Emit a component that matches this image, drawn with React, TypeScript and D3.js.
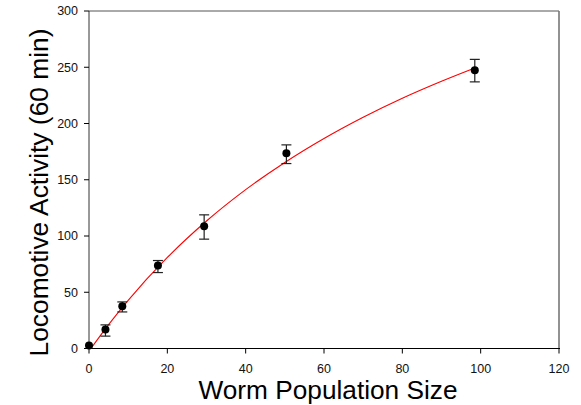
import React from "react";
import * as d3 from "d3";

const popSize = [0, 4.2, 8.5, 17.6, 29.4, 50.4, 98.5];
const activity = [2.7, 16.9, 37.6, 73.8, 108.7, 173.6, 247.4];
const errLow = [2.7, 11.0, 32.5, 67.5, 97.2, 164.4, 237.0];
const errHigh = [2.7, 21.0, 41.4, 78.2, 118.8, 181.0, 257.0];

const fitX = [0.5, 5, 10, 20, 30, 40, 50, 60, 70, 80, 90, 98.5];
const fitY = [0, 21.2, 42.8, 80.9, 113.3, 141.2, 165.4, 186.7, 205.6, 222.5, 237.6, 249.4];

const xTicks = [0, 20, 40, 60, 80, 100, 120];
const yTicks = [0, 50, 100, 150, 200, 250, 300];

const W = 581;
const H = 405;
const M = { left: 89, top: 11, right: 559, bottom: 348.5 };

export default function App() {
  const x = d3.scaleLinear().domain([0, 120]).range([M.left, M.right]);
  const y = d3.scaleLinear().domain([0, 300]).range([M.bottom, M.top]);
  const line = d3
    .line<number>()
    .x((_, i) => x(fitX[i]))
    .y((d) => y(d))
    .curve(d3.curveMonotoneX);
  const font = "Arial, 'Liberation Sans', sans-serif";
  return (
    <svg
      width={W}
      height={H}
      style={{ position: "absolute", left: 0, top: 0, background: "#fff" }}
      fontFamily={font}
    >
      {/* frame */}
      <line x1={M.left} x2={M.right} y1={M.top} y2={M.top} stroke="#555" strokeWidth={1} />
      <line x1={M.right} x2={M.right} y1={M.top} y2={M.bottom} stroke="#777" strokeWidth={1.6} />
      <line x1={M.left} x2={M.right + 1} y1={M.bottom} y2={M.bottom} stroke="#000" strokeWidth={1} />
      <line x1={M.left} x2={M.left} y1={M.top} y2={M.bottom} stroke="#333" strokeWidth={1} />
      {/* x ticks */}
      {xTicks.map((t) => (
        <g key={"x" + t}>
          <line x1={x(t)} x2={x(t)} y1={M.bottom} y2={M.bottom + 5} stroke="#000" />
          <text x={x(t)} y={373} fontSize={12.5} textAnchor="middle" fill="#111">
            {t}
          </text>
        </g>
      ))}
      {/* y ticks */}
      {yTicks.map((t) => (
        <g key={"y" + t}>
          <line x1={M.left - 5} x2={M.left} y1={y(t)} y2={y(t)} stroke="#000" />
          <text x={78} y={y(t) + 4.3} fontSize={12.5} textAnchor="end" fill="#111">
            {t}
          </text>
        </g>
      ))}
      {/* fit curve */}
      <path d={line(fitY) || ""} fill="none" stroke="#ff0000" strokeWidth={1.1} />
      {/* error bars */}
      {popSize.map((p, i) =>
        errHigh[i] - errLow[i] > 0.5 ? (
          <g key={"e" + i} stroke="#222" strokeWidth={1.2}>
            <line x1={x(p)} x2={x(p)} y1={y(errLow[i])} y2={y(errHigh[i])} />
            <line x1={x(p) - 5} x2={x(p) + 5} y1={y(errLow[i])} y2={y(errLow[i])} />
            <line x1={x(p) - 5} x2={x(p) + 5} y1={y(errHigh[i])} y2={y(errHigh[i])} />
          </g>
        ) : null
      )}
      {/* points */}
      {popSize.map((p, i) => (
        <circle key={"p" + i} cx={x(p)} cy={y(activity[i])} r={4} fill="#000" />
      ))}
      {/* axis titles */}
      <text
        x={328}
        y={398.5}
        fontSize={25.5}
        textAnchor="middle"
        fill="#000"
        textLength={259}
        lengthAdjust="spacingAndGlyphs"
      >
        Worm Population Size
      </text>
      <text
        transform={`translate(47.5, ${(28.3 + 356.7) / 2}) rotate(-90)`}
        fontSize={26}
        textAnchor="middle"
        fill="#000"
        textLength={328}
        lengthAdjust="spacingAndGlyphs"
      >
        Locomotive Activity (60 min)
      </text>
    </svg>
  );
}
